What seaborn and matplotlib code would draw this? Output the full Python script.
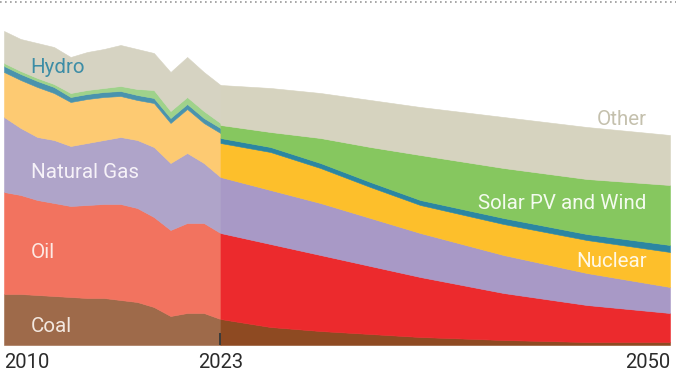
import matplotlib
matplotlib.use("Agg")
import matplotlib.pyplot as plt
from matplotlib.lines import Line2D
import seaborn as sns

# ---- data (historical 2010-2023, projection 2023-2050) ----
hist_years = list(range(2010, 2024))
hist_coal = [51, 51, 50, 49, 48, 47, 47, 45, 43, 38, 29, 32, 32, 26]
hist_oil = [102, 99, 95, 93, 91, 93, 94, 96, 94, 90, 86, 90, 90, 86]
hist_gas = [75, 67, 63, 63, 60, 62, 64, 67, 68, 70, 67, 70, 60, 56]
hist_nuclear = [45, 48, 50, 47, 44, 44, 43, 41, 40, 44, 40, 44, 40, 44]
hist_hydro = [6, 6, 6, 6, 5, 5, 5, 5, 5, 5, 5, 5, 5, 5]
hist_solar_wind = [3, 3, 3, 3, 4, 4, 4, 5, 6, 8, 7, 7, 7, 5]
hist_other = [32, 32, 35, 37, 36, 38, 39, 41, 40, 37, 39, 40, 39, 38]

proj_years = [2023, 2026, 2029, 2032, 2035, 2040, 2045, 2050]
proj_coal = [26, 18, 14, 11, 8, 5, 3, 3]
proj_oil = [86, 83, 76, 68, 60, 47, 37, 29]
proj_gas = [56, 54, 52, 48, 44, 38, 32, 26]
proj_nuclear = [34, 38, 35, 31, 28, 31, 33, 35]
proj_hydro = [5, 5, 5, 5, 5, 6, 6, 7]
proj_solar_wind = [13, 15, 25, 35, 45, 50, 55, 60]
proj_other = [40, 44, 45, 47, 48, 51, 52, 50]

tick_years = [2010, 2023, 2050]
tick_labels = ["2010", "2023", "2050"]

hist_colors = ["#9e6a4a", "#f2735f", "#afa4c9", "#fdca72", "#4a93ad", "#9fd28b", "#d6d3c2"]
proj_colors = ["#8e4a22", "#ec2a2d", "#a899c6", "#fdbf2b", "#2b86a2", "#86c75f", "#d6d3bf"]

sns.set_theme(style="white")
plt.rcParams["font.family"] = ["Roboto", "DejaVu Sans"]

fig = plt.figure(figsize=(6.76, 3.74), dpi=100)
ax = fig.add_axes([4 / 676, 29 / 374, 666 / 676, 342 / 374])

ax.stackplot(hist_years, hist_coal, hist_oil, hist_gas, hist_nuclear, hist_hydro,
             hist_solar_wind, hist_other, colors=hist_colors,
             linewidth=0.4, edgecolor="face")
ax.stackplot(proj_years, proj_coal, proj_oil, proj_gas, proj_nuclear, proj_hydro,
             proj_solar_wind, proj_other, colors=proj_colors,
             linewidth=0.4, edgecolor="face")

ax.set_xlim(2010, 2050)
ax.set_ylim(0, 342)
ax.set_yticks([])
sns.despine(ax=ax, left=True, right=True, top=True, bottom=True)

# baseline and 2023 marker
ax.axhline(0, color="#cfcfcf", lw=1.0, zorder=0)
ax.plot([2023, 2023], [0, 12], color="#3a3a3a", lw=1.4, solid_capstyle="butt")

# ticks
ax.set_xticks(tick_years)
ax.set_xticklabels(tick_labels, fontsize=14.5, color="#2b2b2b")
ax.tick_params(axis="x", length=0, pad=6)
labels = ax.get_xticklabels()
labels[0].set_ha("left")
labels[1].set_ha("center")
labels[2].set_ha("right")

# top dotted rule
fig.add_artist(Line2D([0, 1], [1 - 2 / 374, 1 - 2 / 374], transform=fig.transFigure,
                      color="#9a9a9a", lw=1.2, linestyle=(0, (1, 2))))

# series labels (y counted from baseline)
def lab(x, y, s, color, ha="left"):
    ax.text(x, y, s, fontsize=14.8, color=color, ha=ha, va="baseline")

lab(2011.6, 345 - 73, "Hydro", "#3d8da6")
lab(2011.6, 345 - 178, "Natural Gas", "#f6f2f8")
lab(2011.6, 345 - 258, "Oil", "#fdeae4")
lab(2011.6, 345 - 332, "Coal", "#f3e8e0")
lab(2048.6, 345 - 125, "Other", "#c4c0ad", ha="right")
lab(2048.6, 345 - 209, "Solar PV and Wind", "#f4fbef", ha="right")
lab(2048.6, 345 - 267, "Nuclear", "#fff8e6", ha="right")

fig.savefig("out.png", dpi=100)
